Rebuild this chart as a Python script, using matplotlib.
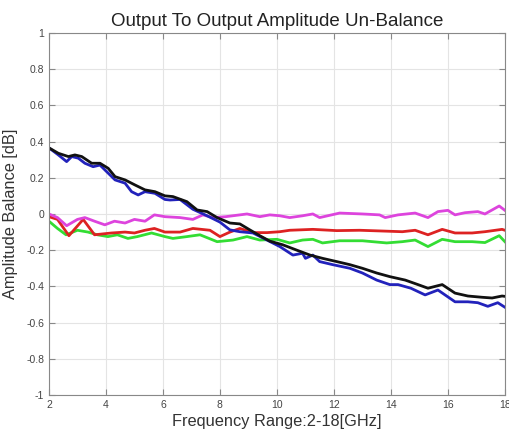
import matplotlib
matplotlib.use('Agg')
import matplotlib.pyplot as plt
from matplotlib.ticker import FormatStrFormatter

plt.rcParams['font.family'] = ['Liberation Sans', 'DejaVu Sans']
plt.rcParams['axes.unicode_minus'] = False

# values (GHz, dB)
f_black = [2.0, 2.33, 2.68, 2.91, 3.15, 3.5, 3.79, 4.08, 4.32, 4.67, 5.02, 5.37, 5.72, 6.07,
           6.35, 6.84, 7.2, 7.55, 7.9, 8.35, 8.7, 9.05, 9.4, 9.75, 10.2, 10.7, 11.16, 11.6,
           12.1, 12.56, 13.0, 13.5, 13.96, 14.5, 14.95, 15.3, 15.8, 16.25, 16.7, 17.2, 17.55,
           17.9, 18.0]
v_black = [0.365, 0.335, 0.317, 0.326, 0.317, 0.28, 0.28, 0.252, 0.206, 0.188, 0.16, 0.133,
           0.123, 0.1, 0.096, 0.068, 0.022, 0.013, -0.02, -0.05, -0.055, -0.088, -0.12, -0.15,
           -0.17, -0.2, -0.227, -0.245, -0.263, -0.28, -0.3, -0.326, -0.346, -0.365, -0.39,
           -0.41, -0.39, -0.437, -0.453, -0.46, -0.464, -0.453, -0.455]

f_blue = [2.0, 2.33, 2.62, 2.8, 3.03, 3.26, 3.55, 3.79, 4.08, 4.32, 4.67, 4.9, 5.13, 5.37,
          5.72, 6.07, 6.25, 6.6, 7.05, 7.55, 8.0, 8.35, 8.7, 9.16, 9.65, 10.1, 10.56, 10.9,
          11.0, 11.26, 11.5, 11.96, 12.56, 13.0, 13.5, 13.96, 14.25, 14.7, 15.2, 15.65, 16.25,
          16.7, 17.05, 17.4, 17.75, 18.0]
v_blue = [0.365, 0.326, 0.289, 0.317, 0.308, 0.28, 0.261, 0.27, 0.225, 0.188, 0.17, 0.123,
          0.105, 0.123, 0.114, 0.08, 0.077, 0.08, 0.026, -0.01, -0.045, -0.088, -0.098, -0.105,
          -0.144, -0.18, -0.227, -0.217, -0.245, -0.227, -0.263, -0.28, -0.3, -0.326, -0.365,
          -0.39, -0.39, -0.41, -0.447, -0.42, -0.485, -0.485, -0.49, -0.51, -0.49, -0.515]

f_mag = [2.0, 2.3, 2.62, 3.0, 3.26, 3.6, 3.96, 4.3, 4.67, 5.0, 5.37, 5.7, 6.07, 6.6, 7.05,
         7.4, 7.75, 8.2, 8.95, 9.4, 9.75, 10.1, 10.45, 10.9, 11.26, 11.5, 12.2, 13.0, 13.6,
         13.8, 14.25, 14.85, 15.3, 15.65, 16.0, 16.25, 16.6, 17.05, 17.3, 17.8, 18.0]
v_mag = [0.0, -0.02, -0.065, -0.03, -0.02, -0.04, -0.06, -0.04, -0.05, -0.03, -0.04, -0.005,
         -0.015, -0.02, -0.03, -0.005, -0.02, -0.015, 0.0, -0.015, -0.005, -0.01, -0.02, -0.01,
         0.0, -0.02, 0.005, 0.0, -0.005, -0.02, -0.005, 0.005, -0.02, 0.013, 0.02, -0.005,
         0.007, 0.013, 0.0, 0.044, 0.02]

f_red = [2.0, 2.3, 2.7, 3.2, 3.6, 4.2, 4.67, 5.0, 5.37, 5.7, 6.07, 6.6, 7.05, 7.65, 8.0, 8.35,
         8.7, 9.16, 9.65, 10.1, 10.45, 11.26, 12.1, 12.9, 13.85, 14.4, 14.85, 15.3, 15.8,
         16.25, 16.85, 17.3, 17.9, 18.0]
v_red = [-0.015, -0.03, -0.12, -0.03, -0.115, -0.105, -0.1, -0.105, -0.09, -0.08, -0.1, -0.1,
         -0.08, -0.09, -0.125, -0.1, -0.08, -0.103, -0.103, -0.098, -0.09, -0.085, -0.092,
         -0.09, -0.095, -0.098, -0.09, -0.115, -0.085, -0.105, -0.105, -0.098, -0.085, -0.09]

f_green = [2.0, 2.3, 2.6, 3.0, 3.37, 3.7, 4.07, 4.4, 4.77, 5.1, 5.6, 6.07, 6.35, 6.84, 7.3,
           7.9, 8.46, 8.95, 9.4, 10.0, 10.45, 10.9, 11.26, 11.6, 12.2, 13.0, 13.85, 14.4,
           14.85, 15.3, 15.8, 16.25, 16.85, 17.3, 17.8, 18.0]
v_green = [-0.04, -0.08, -0.115, -0.09, -0.1, -0.115, -0.125, -0.115, -0.135, -0.125, -0.105,
           -0.125, -0.135, -0.125, -0.115, -0.153, -0.144, -0.125, -0.144, -0.14, -0.16,
           -0.144, -0.14, -0.16, -0.148, -0.148, -0.16, -0.153, -0.144, -0.18, -0.14, -0.153,
           -0.153, -0.158, -0.12, -0.153]

fig = plt.figure(figsize=(5.1, 4.38), dpi=100)
ax = fig.add_axes([0.096, 0.098, 0.894, 0.827])

ax.plot(f_green, v_green, color='#33dd33', lw=2.0)
ax.plot(f_red, v_red, color='#dd2222', lw=2.0)
ax.plot(f_mag, v_mag, color='#dd44dd', lw=2.0)
ax.plot(f_blue, v_blue, color='#2222bb', lw=2.0)
ax.plot(f_black, v_black, color='#111111', lw=2.0)

ax.set_xlim(2, 18)
ax.set_ylim(-1, 1)
ax.set_xticks(range(2, 19, 2))
ax.set_yticks([i / 10 for i in range(-10, 11, 2)])
ax.yaxis.set_major_formatter(FormatStrFormatter('%g'))
ax.grid(True, color='#e4e4e4', lw=0.8)
ax.set_axisbelow(True)
for s in ax.spines.values():
    s.set_color('#888888')
ax.tick_params(direction='in', length=4, width=0.8, colors='#888888',
               labelcolor='#444444', labelsize=7.5, top=True, right=True)

ax.set_title('Output To Output Amplitude Un-Balance', fontsize=13.5, color='#222222', pad=5)
ax.set_xlabel('Frequency Range:2-18[GHz]', fontsize=11.8, color='#333333', labelpad=3)
ax.set_ylabel('Amplitude Balance [dB]', fontsize=11.8, color='#333333', labelpad=6)

fig.savefig('out.png', dpi=100)
